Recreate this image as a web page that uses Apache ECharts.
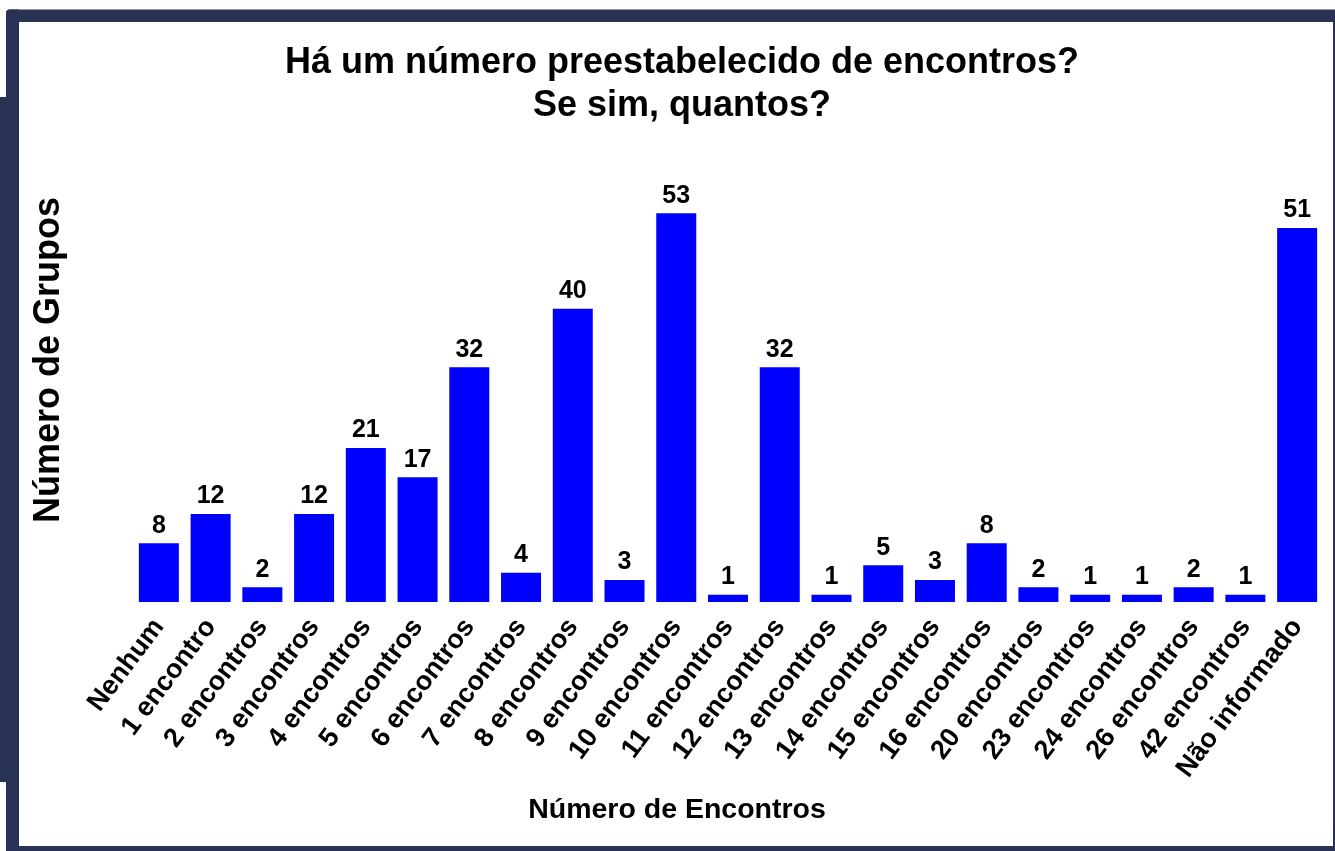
<!DOCTYPE html>
<html>
<head>
<meta charset="utf-8">
<style>
  html, body { margin: 0; padding: 0; background: #ffffff; }
  #chart { width: 1335px; height: 851px; }
</style>
<script src="https://cdn.jsdelivr.net/npm/echarts@6/dist/echarts.min.js"></script>
</head>
<body>
<div id="chart"></div>
<script>
// Categories (number of meetings) and group counts
const categories = [
  'Nenhum', '1 encontro', '2 encontros', '3 encontros', '4 encontros',
  '5 encontros', '6 encontros', '7 encontros', '8 encontros', '9 encontros',
  '10 encontros', '11 encontros', '12 encontros', '13 encontros', '14 encontros',
  '15 encontros', '16 encontros', '20 encontros', '23 encontros', '24 encontros',
  '26 encontros', '42 encontros', 'Não informado'
];
const groupCounts = [8, 12, 2, 12, 21, 17, 32, 4, 40, 3, 53, 1, 32, 1, 5, 3, 8, 2, 1, 1, 2, 1, 51];

const titleText = 'Há um número preestabelecido de encontros?\nSe sim, quantos?';
const xAxisTitle = 'Número de Encontros';
const yAxisTitle = 'Número de Grupos';

const FONT = "'Liberation Sans', Arial, Helvetica, sans-serif";
const FRAME = '#283255';

const chart = echarts.init(document.getElementById('chart'), null, { renderer: 'canvas' });

chart.setOption({
  backgroundColor: '#ffffff',
  animation: false,
  title: {
    text: titleText,
    left: 677,
    top: 37,
    textAlign: 'center',
    textStyle: {
      fontFamily: FONT,
      fontWeight: 'bold',
      fontSize: 36,
      lineHeight: 43,
      color: '#000000'
    }
  },
  // dark navy frame around the white panel
  graphic: [
    { type: 'rect', shape: { x: 6, y: 9.5, width: 1329, height: 12.5, r: [4, 0, 0, 0] }, style: { fill: FRAME }, silent: true },
    { type: 'rect', shape: { x: 6, y: 9.5, width: 13, height: 841.5, r: [4, 0, 0, 0] }, style: { fill: FRAME }, silent: true },
    { type: 'rect', shape: { x: 0, y: 97, width: 8, height: 685 }, style: { fill: FRAME }, silent: true },
    { type: 'rect', shape: { x: 6, y: 846, width: 1329, height: 5 }, style: { fill: FRAME }, silent: true },
    { type: 'rect', shape: { x: 1333, y: 22, width: 2, height: 829 }, style: { fill: FRAME }, silent: true }
  ],
  grid: {
    left: 133,
    right: 12,
    top: 118,
    bottom: 249,
    containLabel: false
  },
  xAxis: {
    type: 'category',
    data: categories,
    name: xAxisTitle,
    nameLocation: 'middle',
    nameGap: 194,
    nameTextStyle: {
      fontFamily: FONT,
      fontWeight: 'bold',
      fontSize: 28.5,
      color: '#000000',
      padding: [0, 102, 0, 0]
    },
    axisLine: { show: false },
    axisTick: { show: false },
    axisLabel: {
      interval: 0,
      rotate: 53,
      margin: 20,
      fontFamily: FONT,
      fontWeight: 'bold',
      fontSize: 27,
      color: '#000000'
    }
  },
  yAxis: {
    type: 'value',
    min: 0,
    max: 66,
    name: yAxisTitle,
    nameLocation: 'middle',
    nameRotate: 90,
    nameGap: 66,
    nameTextStyle: {
      fontFamily: FONT,
      fontWeight: 'bold',
      fontSize: 36,
      color: '#000000'
    },
    axisLine: { show: false },
    axisTick: { show: false },
    axisLabel: { show: false },
    splitLine: { show: false }
  },
  series: [{
    type: 'bar',
    data: groupCounts,
    barWidth: 40,
    itemStyle: { color: '#0000ff' },
    label: {
      show: true,
      position: 'top',
      distance: 5,
      fontFamily: FONT,
      fontWeight: 'bold',
      fontSize: 25,
      color: '#000000'
    }
  }]
});
</script>
</body>
</html>
